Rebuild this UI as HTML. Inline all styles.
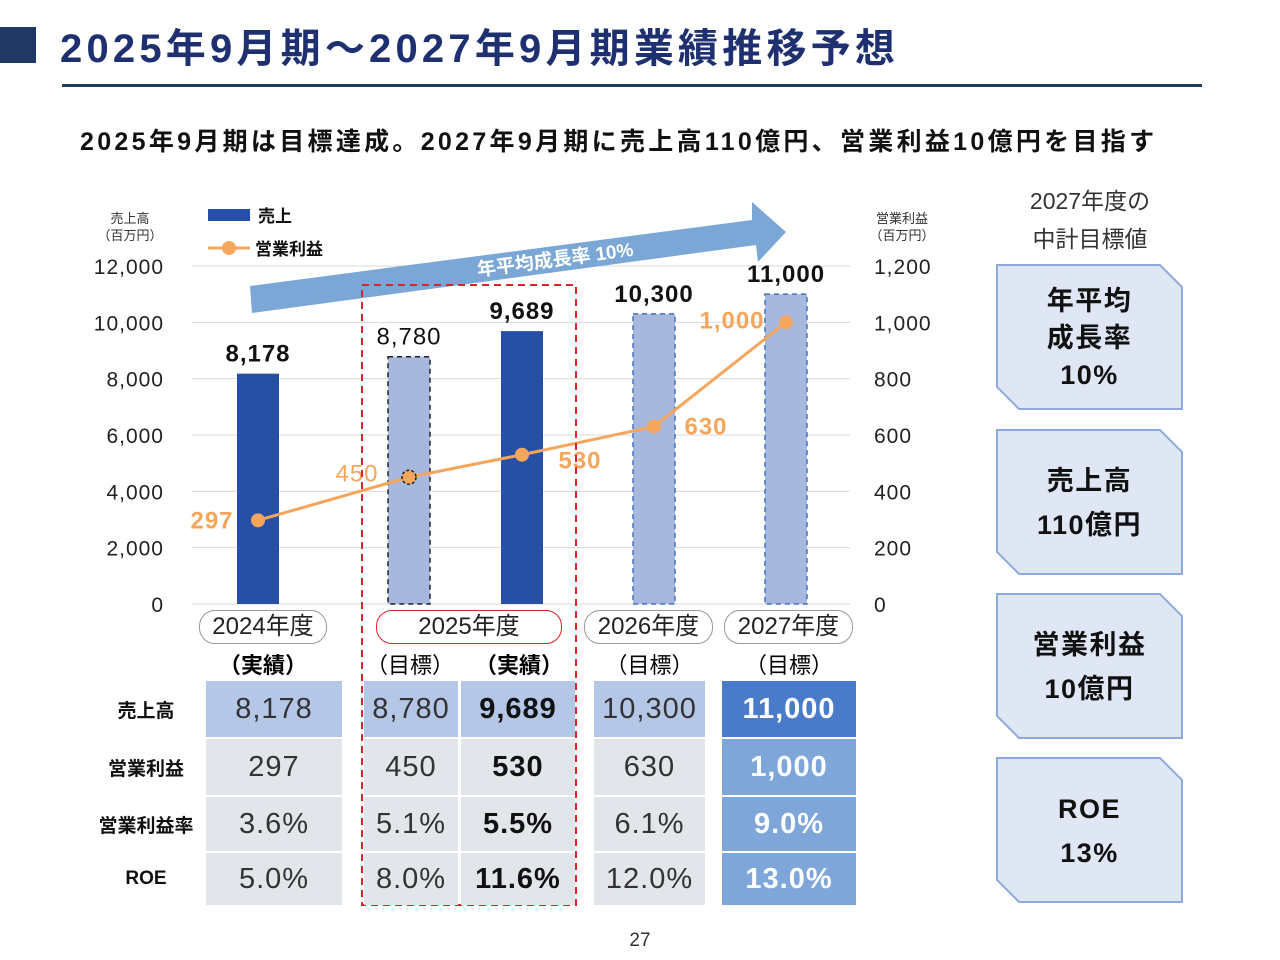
<!DOCTYPE html>
<html><head><meta charset="utf-8"><style>
body{margin:0;width:1280px;height:960px;background:#fff;font-family:"Liberation Sans","Noto Sans CJK JP",sans-serif;overflow:hidden;position:relative}
.abs{position:absolute}
.cell{position:absolute;display:flex;align-items:center;justify-content:center;font-size:29px;color:#333;letter-spacing:1px}
.b{font-weight:bold}
</style></head><body>
<div class="abs" style="left:0;top:27px;width:36px;height:36px;background:#1f3864"></div>
<div class="abs b" style="left:60px;top:16px;font-size:40px;color:#1f3071;letter-spacing:4.2px">2025年9月期～2027年9月期業績推移予想</div>
<div class="abs" style="left:62px;top:84px;width:1140px;height:3px;background:#1f3864"></div>
<div class="abs b" style="left:80px;top:122px;font-size:25px;color:#111;letter-spacing:3.3px">2025年9月期は目標達成。2027年9月期に売上高110億円、営業利益10億円を目指す</div>

<svg class="abs" style="left:0;top:0" width="1280" height="960">
<g id="grid"></g>
<polygon points="252,313 250,286 752,220 752,202 786,232 758,262 756,245" fill="#7ba7d7"/>
<text x="555" y="266" transform="rotate(-7.5 555 258)" font-size="19" font-weight="bold" fill="#fff" text-anchor="middle">年平均成長率 10%</text>
<g id="bars"></g>
<g id="line"></g>
<rect x="362" y="285" width="214" height="620" fill="none" stroke="#e0202a" stroke-width="2" stroke-dasharray="7,5"/>
<text x="130" y="223" font-size="13" text-anchor="middle" fill="#333">売上高</text>
<text x="130" y="240" font-size="13" text-anchor="middle" fill="#333">（百万円）</text>
<text x="902" y="223" font-size="13" text-anchor="middle" fill="#333">営業利益</text>
<text x="902" y="240" font-size="13" text-anchor="middle" fill="#333">（百万円）</text>
<rect x="208" y="209" width="42" height="12" fill="#2650a6"/>
<text x="258" y="222" font-size="17" font-weight="bold" fill="#111">売上</text>
<line x1="208" y1="248" x2="250" y2="248" stroke="#f4a65c" stroke-width="3"/>
<circle cx="229" cy="248" r="7" fill="#f4a65c"/>
<text x="255" y="255" font-size="17" font-weight="bold" fill="#111">営業利益</text>
</svg>

<div class="abs" style="left:199px;top:610px;width:126px;height:32px;border:1.5px solid #999;border-radius:16px;font-size:24px;text-align:center;line-height:32px;color:#222">2024年度</div>
<div class="abs" style="left:376px;top:610px;width:184px;height:32px;border:1.5px solid #e0202a;border-radius:16px;font-size:24px;text-align:center;line-height:32px;color:#222">2025年度</div>
<div class="abs" style="left:584px;top:610px;width:127px;height:32px;border:1.5px solid #999;border-radius:16px;font-size:24px;text-align:center;line-height:32px;color:#222">2026年度</div>
<div class="abs" style="left:724px;top:610px;width:127px;height:32px;border:1.5px solid #999;border-radius:16px;font-size:24px;text-align:center;line-height:32px;color:#222">2027年度</div>
<div class="abs b" style="left:199px;top:648px;width:128px;text-align:center;font-size:22px">（実績）</div>
<div class="abs" style="left:362px;top:648px;width:96px;text-align:center;font-size:22px">（目標）</div>
<div class="abs b" style="left:464px;top:648px;width:110px;text-align:center;font-size:22px">（実績）</div>
<div class="abs" style="left:594px;top:648px;width:111px;text-align:center;font-size:22px">（目標）</div>
<div class="abs" style="left:722px;top:648px;width:134px;text-align:center;font-size:22px">（目標）</div>

<div id="table"></div>

<div class="abs" style="left:990px;top:182px;width:200px;text-align:center;font-size:23px;line-height:38px;color:#333">2027年度の<br>中計目標値</div>
<svg class="abs" style="left:0;top:0" width="1280" height="960" id="boxes"></svg>

<div class="abs" style="left:620px;top:930px;width:40px;text-align:center;font-size:19px;color:#333">27</div>

<script>
const categories=["2024","2025目標","2025実績","2026","2027"];
const sales=[8178,8780,9689,10300,11000];
const profit=[297,450,530,630,1000];
const salesLabels=["8,178","8,780","9,689","10,300","11,000"];
const profitLabels=["297","450","530","630","1,000"];
const leftTicks=[0,2000,4000,6000,8000,10000,12000];
const rightTicks=[0,200,400,600,800,1000,1200];
const NS="http://www.w3.org/2000/svg";
const xs=[258,409,522,654,786];
const yL=v=>604-v/12000*338, yR=v=>604-v/1200*338;
function mk(p,t,a){const e=document.createElementNS(NS,t);for(const k in a)e.setAttribute(k,a[k]);p.appendChild(e);return e;}
const grid=document.getElementById('grid');
leftTicks.forEach((t,i)=>{
 const y=yL(t);
 const l=mk(grid,'line',{x1:192,x2:850,y1:y,y2:y,stroke:'#d9d9d9','stroke-width':1});
 
 const a=mk(grid,'text',{x:164,y:y+8,'font-size':21,'text-anchor':'end',fill:'#222','letter-spacing':1});a.textContent=t.toLocaleString('en-US');
 
 const b=mk(grid,'text',{x:874,y:y+8,'font-size':21,fill:'#222','letter-spacing':1});b.textContent=rightTicks[i].toLocaleString('en-US');
 
});
const bars=document.getElementById('bars');
const styles=[{f:'#2650a6'},{f:'#a7b8de',s:'#222'},{f:'#2650a6'},{f:'#a7b8de',s:'#4472c4'},{f:'#a7b8de',s:'#4472c4'}];
sales.forEach((v,i)=>{
 const st=styles[i];const a={x:xs[i]-21,y:yL(v),width:42,height:604-yL(v),fill:st.f};
 if(st.s){a.stroke=st.s;a['stroke-width']=1.5;a['stroke-dasharray']='5,4';}
 const r=mk(bars,'rect',a);
 const t=mk(bars,'text',{x:xs[i],y:yL(v)-12,'font-size':24,'text-anchor':'middle',fill:'#111','font-weight':i==1?'normal':'bold','letter-spacing':1});
 t.textContent=salesLabels[i];
});
const line=document.getElementById('line');
const pl=mk(line,'polyline',{points:profit.map((v,i)=>xs[i]+','+yR(v)).join(' '),fill:'none',stroke:'#f4a65c','stroke-width':3});

const off=[[-46,8],[-52,4],[58,14],[52,8],[-54,6]];
profit.forEach((v,i)=>{
 const c=mk(line,'circle',{cx:xs[i],cy:yR(v),r:7,fill:'#f4a65c'});
 if(i==1){c.setAttribute('stroke','#222');c.setAttribute('stroke-dasharray','3,2');c.setAttribute('stroke-width','1.5');}
 
 const t=mk(line,'text',{x:xs[i]+off[i][0],y:yR(v)+off[i][1],'font-size':24,'text-anchor':'middle',fill:'#f4a65c','font-weight':i==1?'normal':'bold','letter-spacing':1});
 t.textContent=profitLabels[i];
});
const rowNames=["売上高","営業利益","営業利益率","ROE"];
const tableVals=[salesLabels,profitLabels,["3.6%","5.1%","5.5%","6.1%","9.0%"],["5.0%","8.0%","11.6%","12.0%","13.0%"]];
const rowsY=[[681,56],[739,56],[797,54],[853,52]];
const cols=[[206,136],[364,94],[461,114],[594,111],[722,134]];
const tb=document.getElementById('table');
rowsY.forEach((r,ri)=>{
 const h=document.createElement('div');h.className='cell b';h.style.cssText=`left:90px;top:${r[0]}px;width:112px;height:${r[1]}px;font-size:19px;color:#111;letter-spacing:0`;h.textContent=rowNames[ri];
 tb.appendChild(h);
 cols.forEach((c,ci)=>{
  const d=document.createElement('div');d.className='cell'+((ci==2||ci==4)?' b':'');
  let bg=ri==0?'#b4c7e7':'#e2e5ea';if(ci==4)bg=ri==0?'#4a7bc8':'#7fa6d9';
  d.style.cssText=`left:${c[0]}px;top:${r[0]}px;width:${c[1]}px;height:${r[1]}px;background:${bg};color:${ci==4?'#fff':(ci==2?'#111':'#333')}`;
  d.textContent=tableVals[ri][ci];
  tb.appendChild(d);
 });
});
const bx=document.getElementById('boxes');
const boxTexts=[["年平均","成長率","10%"],["売上高","110億円"],["営業利益","10億円"],["ROE","13%"]];
[265,430,594,758].forEach((y,i)=>{
 const x=997,w=185,h=144,c=22;
 const p=mk(bx,'polygon',{points:`${x},${y} ${x+w-c},${y} ${x+w},${y+c} ${x+w},${y+h} ${x+c},${y+h} ${x},${y+h-c}`,fill:'#dfe7f5',stroke:'#8eaadb','stroke-width':2});
 
 const lines=boxTexts[i];const lh=lines.length==3?37:44;const y0=y+h/2-(lines.length-1)*lh/2+10;
 lines.forEach((s,j)=>{const t=mk(bx,'text',{x:x+w/2,y:y0+j*lh,'font-size':27,'font-weight':'bold','text-anchor':'middle',fill:'#111','letter-spacing':1.5});t.textContent=s;
 });
});
</script>
</body></html>
